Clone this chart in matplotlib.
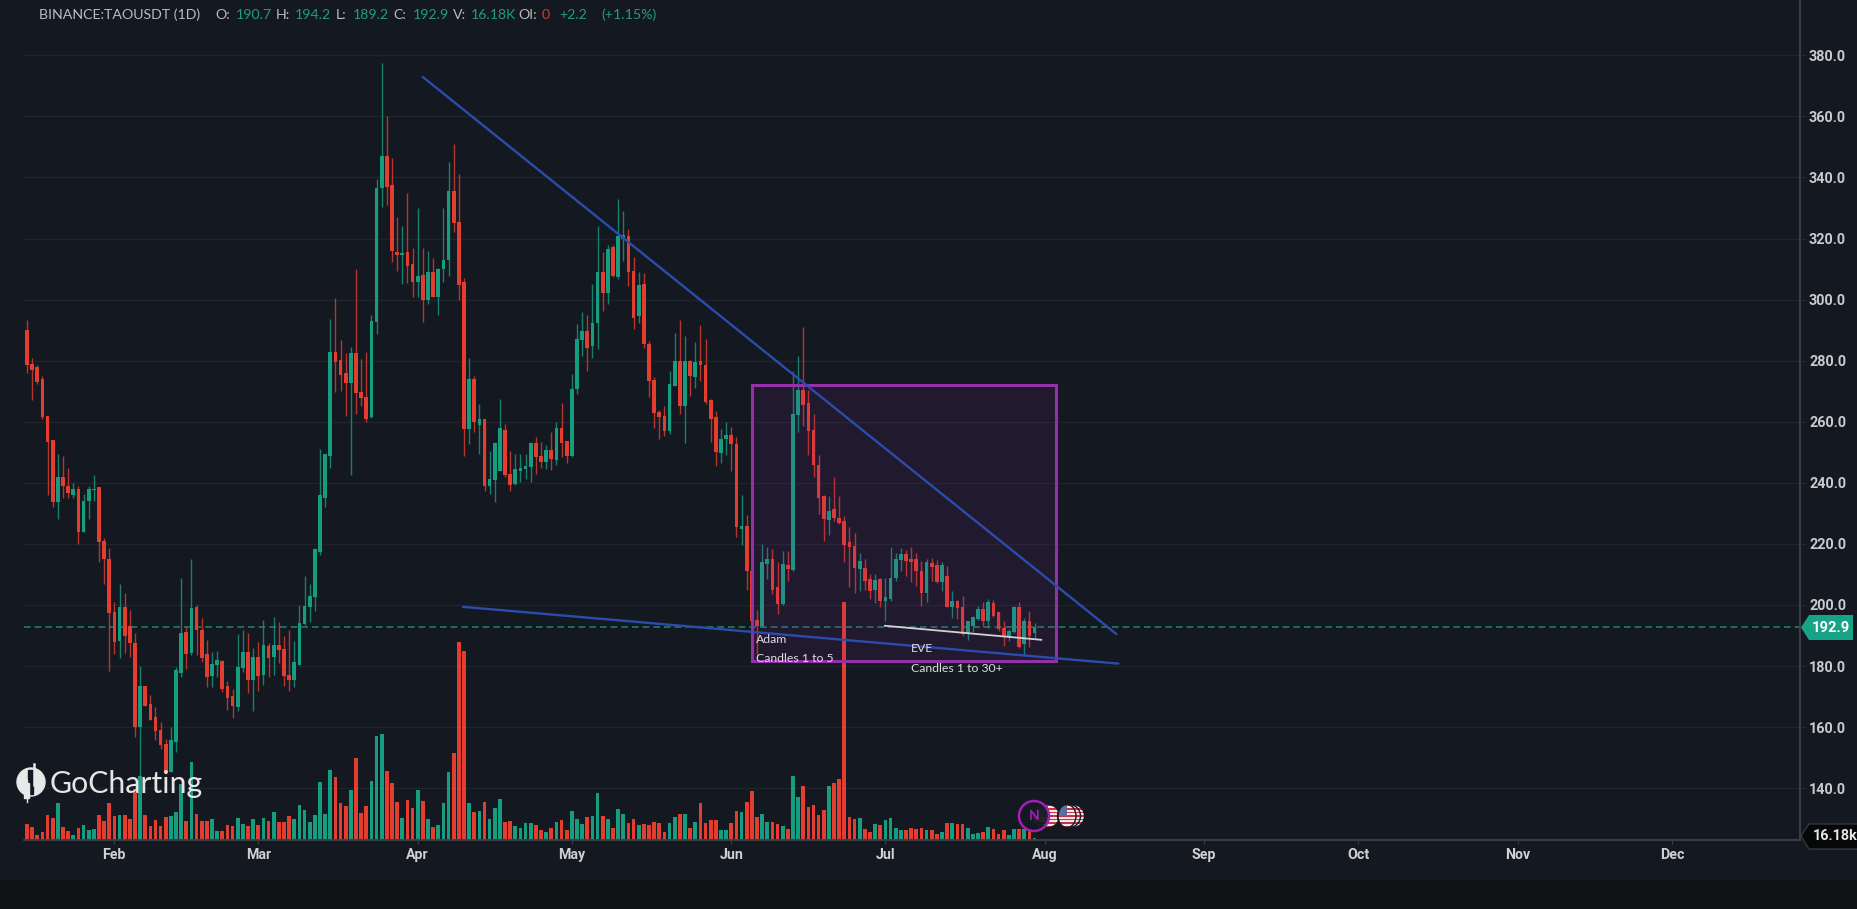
import numpy as np
import matplotlib
matplotlib.use("Agg")
import matplotlib.pyplot as plt
from matplotlib.patches import Rectangle, Polygon, Circle, Ellipse

opens = [290,279,277.8,274,262,254,233.8,242,239,236,238,224,234,237.5,238.5,221,215,197.7,188.3,199.4,193,187.6,160,173.4,167.5,163.4,159.2,154.6,145.3,155.2,177.8,191,184.3,199.4,191.7,183.9,176.7,180.3,181.7,173.4,170.1,166.6,179.5,184.6,175.6,183,177,186.5,183,186.8,185.7,177,175.4,180.5,193.9,199.4,202.7,217.4,235,248.7,283,280.2,276,272.6,282.4,269.8,268,261.4,292.8,336.4,347,337.5,315.7,314.6,315.5,311.5,305.9,308,300,309,301,310,313,335.4,325.3,305.6,257.5,274,258.9,260.8,238.9,241,244,257.3,243,239.6,244,244.4,245.3,252.9,248.8,246.9,250.9,247.4,258.1,253.8,248.8,270.7,286.8,289.6,284.7,292.3,309,302,317.3,307.5,320,320.9,309.4,294.7,305,285.4,273.7,263.3,262,257,271.8,280,265.2,280,274.5,280,278.5,267.2,261.4,249.8,254.2,255.5,252.8,225,226,211.2,195.2,193,213.4,215,206,200.3,213.2,211.4,262.3,270.4,266,257.3,246,235.8,227.9,231.4,228.5,227.6,220.5,219.4,211.8,212,208.5,204.9,208.5,201.4,202,208.8,214.7,216.7,215,215,211.2,204,213.7,213,207.4,209.6,199.4,201.4,199.4,190.5,193.2,195.4,198.7,194.8,200.5,197.6,192.4,190,191,199.5,187.2,194.6,190.7]
highs = [293.3,281,278.6,275,262,254,249.4,248.7,245,239.8,239,236.5,239,242.5,238.7,222,218.5,201,207,204,198.3,190.9,180,173.4,170.5,166.6,161.7,156,160,179.7,208.7,192.8,215,200,195.6,188.5,184.6,185,182,175,172.6,190.4,191.7,190.7,186,188,195,187.4,196,194.5,189.8,191.7,188.3,200,209.5,206.8,218.5,251,249.6,293.6,300.4,286.8,282.6,284.6,310,280.7,283,295,339.4,377.4,360,346.3,327,324,335,316.8,330,317,316,313.5,310.5,330,345,351,341,307,281,275,265.8,261,250.5,253.4,267.4,259.3,250.4,249.4,249.6,249.6,253.4,254.9,253.3,252.4,256.7,260,266.2,253.8,275.6,292,296,295,305,324,315.7,318,317.8,333,329,323,313.8,309,308.6,286.5,274.8,264,265,276.7,289.2,293.4,288.1,280.1,286.2,291.6,287,267.4,263.6,257.5,260,258.4,255,236,229.4,211.4,198.5,220,219,218.3,214,217.8,217.6,276.7,281.6,291,270.4,262.7,249,235.9,235.8,242,235.8,229,225.6,223.5,217,215,210,210.3,209,209,219,217,218.6,218,218.9,216.9,214.5,215,215.4,214.7,214,212.9,204.7,201.5,203,194.8,196.5,199.8,200.9,202,201.6,197.7,194.8,192,199.8,200.9,195.7,197.9,194.2]
lows = [276,267,272.5,261,236,232,228,235,235,235,220,224,228,234,214,207,178.4,184,182.5,184.3,183,156.8,144,166.9,162.3,155.7,153,144.8,145.3,152,176.5,179,183.5,183.5,181.4,173,173,176.5,171.5,165.5,163.1,165.3,178,171.2,165.3,172,173.7,176.5,177,181,173.4,172,173,180.3,193.4,194.5,198,216.3,232,245,269.8,270,261.9,242.5,262.5,265,260,261.2,288.6,330.4,331,312.4,309.4,305,305.3,301,301,292.7,298.5,300.7,295,305.6,307.8,322,300,248.8,252.7,256.7,249.6,237.4,236.5,233.8,244,242,237.4,239.4,240.3,241.2,240.3,243,244.7,244.5,244.2,246,248.3,246.6,248.6,269,281.6,276.7,281,283.8,296.3,298.5,307.4,306.7,312.7,304.5,290.3,292.3,284.3,268.2,257.8,254.5,255.4,256,271.6,262.5,253,268.5,271.2,273.4,265.8,253.4,245.5,246.4,249,244,222.3,219.6,205,194.6,183.5,192.8,208.5,203.6,197,200.1,208,211.2,256.5,258.7,249,241.8,229.8,221,223,227.6,226.5,214,205.8,204,204.7,205,202,200.5,199.4,194.8,201.4,208,211,209.6,207.4,206.3,199.8,201,208,207.2,204.7,199.2,195.7,195.4,190,188.5,191,195.2,192.7,192.4,196,191.6,186.7,188.3,190.8,185.9,183.4,186.1,189.2]
closes = [278.6,277,273,261.7,253.4,233.8,242,239,236.8,238,224,234,238,238,220.7,215,197.4,188,199.4,189.8,187.4,160,173.4,166.9,162.5,158.8,154,145.3,155.7,178.6,190.7,184,199,191.7,182.5,176.5,180.6,182.1,172.6,169.4,166.9,179.7,184.6,175.6,183,176.7,186.8,182.5,186.8,185.2,176.7,175.4,181.4,194,199.7,203,218.2,236,249.4,283,279.7,275.3,272.6,282.4,269.5,267.7,261,293,336.4,347,337,316,314.6,315.2,311,305.9,307.7,300,309,301,310,313,335.4,325,304.8,257.5,274,260,260.8,239,241.4,253,257.8,242.5,239.3,244.4,245,245.6,252.9,248.3,246.9,250.9,247.7,258.1,253.2,248.8,270.7,287,289.6,284.3,292.5,309,302,316.5,307.6,320.7,321,309,294,304.7,285.4,273.4,263,261.7,257,272.5,280,265.2,280,275,279.6,278.5,266.5,261,250.2,254.5,255.6,252.8,225.6,226,211.2,194.8,193,214,215,204.9,200.3,213.4,211.8,262.5,270.4,265.6,256.9,246,235,228,230.9,228.5,226.8,219.7,219,212,214.3,208,204.7,208.2,201.4,202.5,209,215,216.7,214.5,214,211,204,214,212.5,207.4,213.2,199.4,201.4,199,190.5,194.6,196,198.7,194.6,200.9,196.5,192,190,191.4,199.5,186.3,194.6,190,192.9]
# volume, in units of about 3k
volumes = [48,38,16,23,75,66,110,38,26,16,35,44,30,34,74,56,110,71,74,74,63,153,193,74,41,60,41,70,73,83,168,56,233,78,56,56,63,26,26,44,41,66,48,41,63,44,66,56,83,53,53,73,63,106,91,53,74,175,78,210,188,110,102,150,246,82,102,178,312,318,206,170,113,66,121,95,150,117,62,40,44,110,205,262,595,567,112,84,87,115,62,97,123,55,57,42,37,51,51,44,29,25,37,55,59,29,87,62,47,69,73,142,73,62,37,94,77,52,62,45,49,44,55,52,25,52,69,77,77,37,55,110,52,59,59,30,30,52,87,84,115,148,69,79,55,55,47,43,33,191,130,163,100,105,76,91,162,170,184,714,69,62,65,33,25,47,44,61,65,36,29,29,37,33,37,29,29,19,25,52,52,47,47,36,17,20,25,40,33,19,29,15,33,33,33,27,5.4]

month_days = [17,45,76,106,137,167,198,229,259,290,320]
month_labels = ["Feb","Mar","Apr","May","Jun","Jul","Aug","Sep","Oct","Nov","Dec"]
price_ticks = [140,160,180,200,220,240,260,280,300,320,340,360,380]
last_close = 192.9

falling_line_x = [77.0,211.9]
falling_line_y = [372.9,190.5]
lower_line_x = [84.8,212.3]
lower_line_y = [199.4,180.8]
white_line_x = [166.9,197.3]
white_line_y = [193.2,188.6]
box_x = [141.0,200.1]
box_y = [181.7,272.0]

W, H = 1858, 909
BG = "#141820"
GREEN = "#169c7f"
RED = "#e23d2f"
UI = ["Lato", "DejaVu Sans"]

plt.rcParams["font.family"] = UI
fig = plt.figure(figsize=(W/100, H/100), dpi=100, facecolor=BG)

def fx(x): return x / W
def fy(y): return 1 - y / H

fig.add_artist(Rectangle((0, 0), 1, fy(880), transform=fig.transFigure, color="#101114", zorder=0))

rect = [fx(24), fy(840), fx(1800 - 24), 840 / H]
axv = fig.add_axes(rect, facecolor="none", zorder=1)
ax = axv.twinx()
ax.set_zorder(2)
ax.patch.set_visible(False)

idx = np.arange(len(opens))
o, h, l, c = map(np.array, (opens, highs, lows, closes))
up = c >= o
colors = np.where(up, GREEN, RED)

axv.bar(idx, volumes, width=0.72, color=colors, linewidth=0)
axv.set_ylim(0, 2520)
axv.set_xlim(-0.58, 344.9)
axv.set_yticks([])

ax.set_ylim(123.05, 398.1)
ax.set_xticks(month_days)
ax.set_xticklabels([])
axv.set_xticks(month_days)
axv.set_xticklabels(month_labels, fontsize=10.2, color="#d0d1d3", fontweight="bold", family=["Roboto"])
axv.tick_params(axis="x", length=3, color="#3a3e47", pad=2.5, width=0.8)
ax.tick_params(axis="x", length=0)
ax.set_yticks(price_ticks)
ax.set_yticklabels([f"{t:.1f}" for t in price_ticks], fontsize=10.4, color="#c9cbce", fontweight="bold", family=["Roboto"])
ax.tick_params(axis="y", length=3.6, color="#262a31", pad=2.9, width=0.8)
ax.grid(True, color="white", alpha=0.05, linewidth=1.0)
ax.set_axisbelow(True)

for a in (ax, axv):
    a.spines["top"].set_visible(False)
    a.spines["left"].set_visible(False)
    a.spines["right"].set_color("#3d4049")
    a.spines["bottom"].set_color("#3d4049")
    a.spines["right"].set_linewidth(1.1)
    a.spines["bottom"].set_linewidth(1.1)

ax.axhline(last_close, color="#1d7d69", linewidth=1.2, dashes=(4, 2.4), zorder=1.5)

ax.vlines(idx, l, h, colors=colors, linewidth=1.0, alpha=0.8, zorder=3)
ax.bar(idx, np.abs(c - o), bottom=np.minimum(o, c), width=0.72, color=colors, linewidth=0, zorder=3.1)

ax.add_patch(Rectangle((box_x[0], box_y[0]), box_x[1] - box_x[0], box_y[1] - box_y[0],
                       facecolor="#9c27b0", alpha=0.10, edgecolor="none", zorder=3.5))
ax.add_patch(Rectangle((box_x[0], box_y[0]), box_x[1] - box_x[0], box_y[1] - box_y[0],
                       facecolor="none", edgecolor="#9430a8", linewidth=2.2, zorder=3.6))
ax.plot(falling_line_x, falling_line_y, color="#2c4cad", linewidth=1.7, zorder=4, solid_capstyle="round")
ax.plot(lower_line_x, lower_line_y, color="#2c4cad", linewidth=1.7, zorder=4, solid_capstyle="round")
ax.plot(white_line_x, white_line_y, color="#d2d2d2", linewidth=1.3, zorder=4.1)

note = dict(fontsize=8.8, color="#dcdcdc", ha="left", va="center", zorder=6)
fig.text(fx(756), fy(639.5), "Adam", **note)
fig.text(fx(756), fy(658.5), "Candles 1 to 5", **note)
fig.text(fx(911), fy(648), "EVE", **note)
fig.text(fx(911), fy(668), "Candles 1 to 30+", **note)

# header
GRAY = "#b9bbbe"
TEAL = "#1f9c83"
REDT = "#cf3b33"
header = [(39,"BINANCE:TAOUSDT (1D)",GRAY),(215,"O:",GRAY),(236,"190.7",TEAL),(276,"H:",GRAY),(295,"194.2",TEAL),
          (336,"L:",GRAY),(353,"189.2",TEAL),(393,"C:",GRAY),(413,"192.9",TEAL),(453,"V:",GRAY),(471,"16.18K",TEAL),
          (518,"OI:",GRAY),(541.5,"0",REDT),(559,"+2.2",TEAL),(601,"(+1.15%)",TEAL)]
for hx, txt, col in header:
    fig.text(fx(hx), fy(15), txt, fontsize=10.2, color=col, ha="left", va="center", zorder=6)

# price and volume tags on the right
fig.add_artist(Polygon([(fx(1801),fy(627.5)),(fx(1809),fy(615)),(fx(1853),fy(615)),(fx(1853),fy(640)),(fx(1809),fy(640))],
                       closed=True, transform=fig.transFigure, facecolor="#17a486", edgecolor="none", zorder=6))
fig.text(fx(1831), fy(627.5), f"{last_close:.1f}", fontsize=10.6, color="white", fontweight="bold", family=["Roboto"], ha="center", va="center", zorder=7)
fig.add_artist(Polygon([(fx(1801),fy(836)),(fx(1809),fy(824)),(fx(1858),fy(824)),(fx(1858),fy(849)),(fx(1809),fy(849))],
                       closed=True, transform=fig.transFigure, facecolor="#060708", edgecolor="#3d4049", linewidth=0.8, zorder=6))
fig.text(fx(1835), fy(836.5), "16.18k", fontsize=10.4, color="#e6e6e6", fontweight="bold", family=["Roboto"], ha="center", va="center", zorder=7)

# logo
logo_ax = fig.add_axes([0, 0, 1, 1], facecolor="none", zorder=5)
logo_ax.set_xlim(0, W)
logo_ax.set_ylim(H, 0)
logo_ax.axis("off")
logo_ax.add_patch(Circle((31, 782), 14, color="#e8e8e8"))
logo_ax.add_patch(Rectangle((28.5, 770), 5, 24, color=BG))
logo_ax.add_patch(Rectangle((24.5, 783), 5, 15, color="#e8e8e8"))
logo_ax.plot([34.5, 34.5], [764, 785], color="#e8e8e8", lw=1.8)
logo_ax.plot([27, 27], [780, 802], color="#e8e8e8", lw=1)
logo_ax.text(50, 783.5, "GoCharting", fontsize=21.8, color="#e6e6e6", ha="left", va="center", family=["Lato"])

# news and flag icons
coins = [(1044, 11.5), (1048, 11.5), (1073, 11.5), (1069, 11.5), (1067, 9.0)]
for i, (cx, rx) in enumerate(coins):
    cy = 816
    ry = 11.5
    z = 2 + i * 0.1
    disc = Ellipse((cx, cy), 2 * rx, 2 * ry, facecolor="#f3e6e6", edgecolor="none", zorder=z)
    logo_ax.add_patch(disc)
    for k in range(7):
        s = Rectangle((cx - rx, cy - ry + k * 2 * ry / 6.5), 2 * rx, ry / 6.5, facecolor="#c8334a", edgecolor="none", zorder=z + 0.01)
        logo_ax.add_patch(s)
        s.set_clip_path(disc)
    b = Rectangle((cx - rx, cy - ry), rx, ry, facecolor="#5b6f9f", edgecolor="none", zorder=z + 0.02)
    logo_ax.add_patch(b)
    b.set_clip_path(disc)
    logo_ax.add_patch(Ellipse((cx, cy), 2 * rx, 2 * ry, facecolor="none", edgecolor=BG, linewidth=1.0, zorder=z + 0.03))

logo_ax.add_patch(Circle((1034, 816), 15, facecolor=BG, alpha=0.92, edgecolor="none", zorder=3))
logo_ax.add_patch(Circle((1034, 816), 15, facecolor="none", edgecolor="#a31fb5", linewidth=1.8, zorder=3.1))
logo_ax.text(1034, 816.5, "N", color="#a31fb5", fontsize=10, fontweight="bold", ha="center", va="center", zorder=3.2)

fig.savefig("out.png", dpi=100, facecolor=BG)
